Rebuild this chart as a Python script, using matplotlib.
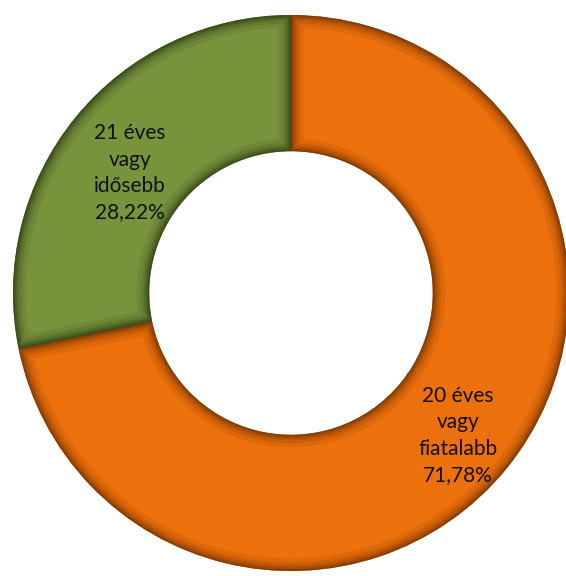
import matplotlib
matplotlib.use("Agg")
import matplotlib.pyplot as plt
import matplotlib.patches as mp
import numpy as np

labels = ["20 éves\nvagy\nfiatalabb", "21 éves\nvagy\nidősebb"]
values = [71.78, 28.22]
pct_text = ["71,78%", "28,22%"]
colors = ["#EC700C", "#77933C"]
dark = ["#5a2800", "#22300c"]
label_xy = [(0.60, -0.512), (-0.579, 0.432)]  # layout positions in axes data units

W, H = 566, 576
fig = plt.figure(figsize=(W / 100, H / 100), dpi=100)
cx, cy, R = 291, 293, 278
ax = fig.add_axes([(cx - R) / W, (H - cy - R) / H, 2 * R / W, 2 * R / H])
ax.axis("off")

width = 0.49
wedges, _ = ax.pie(values, colors=colors, startangle=90, counterclock=False,
                   radius=1.0, wedgeprops=dict(width=width, edgecolor="none"))
ax.set_xlim(-1, 1)
ax.set_ylim(-1, 1)

# bevel / inner shadow effect
for w, dc in zip(wedges, dark):
    for lw, a in [(18, 0.10), (12, 0.14), (8, 0.18), (5, 0.26), (2, 0.4)]:
        p = mp.Wedge(w.center, w.r, w.theta1, w.theta2, width=w.width,
                     facecolor="none", edgecolor=dc, linewidth=lw, alpha=a)
        ax.add_patch(p)
        p.set_clip_path(w)

# labels
for lab, pt, (x, y) in zip(labels, pct_text, label_xy):
    ax.text(x, y, lab + "\n" + pt, ha="center", va="center", fontsize=15,
            family=["Lato", "DejaVu Sans"], color="#111111", linespacing=1.4)

fig.savefig("out.png", dpi=100, facecolor="white")
